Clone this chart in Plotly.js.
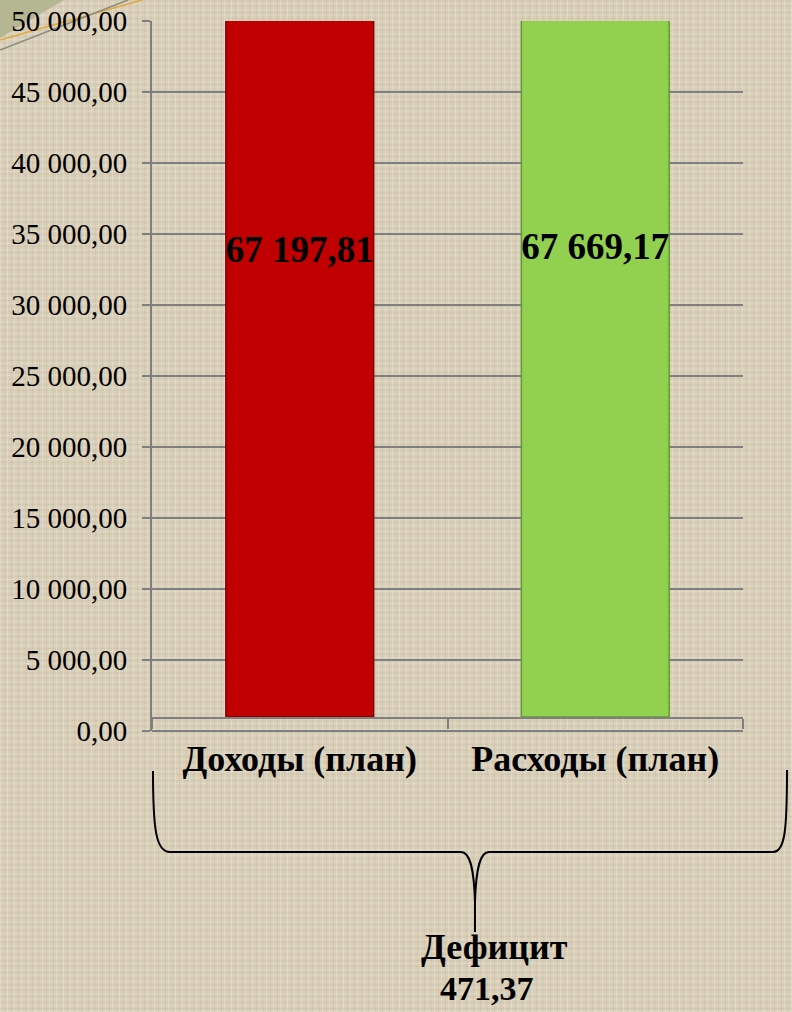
<!DOCTYPE html>
<html>
<head>
<meta charset="utf-8">
<script src="https://cdn.plot.ly/plotly-3.0.1.min.js"></script>
<style>
  html, body { margin: 0; padding: 0; }
  body {
    width: 792px; height: 1012px; overflow: hidden;
    background-color: #d9cfb8;
    background-image:
      repeating-linear-gradient(90deg, rgba(255,255,255,0.18) 0px, rgba(255,255,255,0.18) 1px, rgba(0,0,0,0) 1px, rgba(0,0,0,0) 4px, rgba(120,100,70,0.07) 4px, rgba(120,100,70,0.07) 5px, rgba(0,0,0,0) 5px, rgba(0,0,0,0) 7px),
      repeating-linear-gradient(0deg, rgba(255,255,255,0.15) 0px, rgba(255,255,255,0.15) 1px, rgba(0,0,0,0) 1px, rgba(0,0,0,0) 3px, rgba(120,100,70,0.08) 3px, rgba(120,100,70,0.08) 4px, rgba(0,0,0,0) 4px, rgba(0,0,0,0) 6px);
  }
  #chart { width: 792px; height: 1012px; }
</style>
</head>
<body>
<div id="chart"></div>
<script>
// ---- data ----
const categories = ['Доходы (план)', 'Расходы (план)'];
const values = [67197.81, 67669.17];
const barColors = ['#c00000', '#92d050'];
const barEdgeColors = ['#7a0000', '#5f9a2e'];
const deficitLabel = 'Дефицит';
const deficitValue = [471.37];

// ---- layout helpers (plot area in pixels) ----
const W = 792, H = 1012;
const PL = 152, PR = 743, PT = 21, PB = 731, FLOOR = 717;
const X = px => (px - PL) / (PR - PL);
const Y = py => (PB - py) / (PB - PT);
const P = (px, py) => X(px).toFixed(5) + ',' + Y(py).toFixed(5);

const serif = 'Liberation Serif';

const bars = {
  type: 'bar',
  x: categories,
  y: values,
  xaxis: 'x',
  yaxis: 'y2',
  marker: { color: barColors, line: { color: barEdgeColors, width: 1.5 } },
  texttemplate: '%{y:,.2f}',
  textposition: 'inside',
  insidetextanchor: 'middle',
  textangle: 0,
  constraintext: 'none',
  textfont: { family: serif, size: 37, color: '#000000', weight: 'bold' },
  cliponaxis: true,
  hoverinfo: 'skip',
  showlegend: false
};

// empty trace so the value axis subplot exists
const ghost = {
  type: 'scatter', mode: 'markers', x: categories, y: [null, null],
  xaxis: 'x', yaxis: 'y', hoverinfo: 'skip', showlegend: false
};

const braceLeft =
  'M' + P(153, 771) +
  ' C' + P(153, 830) + ' ' + P(156, 852) + ' ' + P(170, 852) +
  ' L' + P(461, 852) +
  ' C' + P(470, 852) + ' ' + P(474, 868) + ' ' + P(475, 902);
const braceRight =
  'M' + P(475, 902) +
  ' C' + P(476, 868) + ' ' + P(480, 852) + ' ' + P(489, 852) +
  ' L' + P(773, 852) +
  ' C' + P(785, 852) + ' ' + P(787, 830) + ' ' + P(787, 770);
const braceStem = 'M' + P(475, 900) + ' L' + P(475, 932);

const decoFill = 'M' + P(0, 0) + ' L' + P(64, 0) + ' Q' + P(30, 20) + ' ' + P(0, 38) + ' Z';
const decoOrange = 'M' + P(0, 40) + ' L' + P(142, 0);
const decoGray = 'M' + P(0, 50) + ' L' + P(128, 0);

const layout = {
  width: W, height: H,
  margin: { l: PL, r: W - PR, t: PT, b: H - PB, pad: 0 },
  paper_bgcolor: 'rgba(0,0,0,0)',
  plot_bgcolor: 'rgba(0,0,0,0)',
  separators: ', ',
  bargap: 0.5,
  showlegend: false,
  font: { family: serif, color: '#000000', size: 29 },
  xaxis: {
    type: 'category',
    domain: [0, 1],
    anchor: 'y2',
    showline: true, linecolor: '#7f7f7f', linewidth: 2,
    ticks: 'outside', tickson: 'boundaries', ticklen: 10, tickwidth: 2, tickcolor: '#7f7f7f',
    showgrid: false,
    tickfont: { family: serif, size: 36, color: '#000000', weight: 'bold' },
    ticklabelstandoff: 9,
    fixedrange: true
  },
  yaxis: {
    domain: [0, 1],
    anchor: 'x',
    range: [0, 50000],
    dtick: 5000,
    tickformat: ',.2f',
    showline: true, linecolor: '#7f7f7f', linewidth: 2,
    ticks: 'outside', ticklen: 8, tickwidth: 2, tickcolor: '#7f7f7f',
    showgrid: true, gridcolor: '#7f7f7f', gridwidth: 1.5,
    zeroline: true, zerolinecolor: '#7f7f7f', zerolinewidth: 2,
    tickfont: { family: serif, size: 29, color: '#000000' },
    ticklabelstandoff: 9,
    fixedrange: true
  },
  yaxis2: {
    domain: [Y(FLOOR), 1],
    anchor: 'x',
    range: [0, 50000],
    visible: false,
    showgrid: false,
    zeroline: false,
    fixedrange: true
  },
  shapes: [
    { type: 'path', xref: 'paper', yref: 'paper', path: decoFill, fillcolor: '#b5b692', line: { width: 0 }, layer: 'below' },
    { type: 'path', xref: 'paper', yref: 'paper', path: decoOrange, line: { color: '#e0a93a', width: 1.5 }, layer: 'below' },
    { type: 'path', xref: 'paper', yref: 'paper', path: decoGray, line: { color: '#8a8a80', width: 1.5 }, layer: 'below' },
    { type: 'path', xref: 'paper', yref: 'paper', path: braceLeft, line: { color: '#000000', width: 2 } },
    { type: 'path', xref: 'paper', yref: 'paper', path: braceRight, line: { color: '#000000', width: 2 } },
    { type: 'path', xref: 'paper', yref: 'paper', path: braceStem, line: { color: '#000000', width: 2 } }
  ],
  annotations: [
    { xref: 'paper', yref: 'paper', x: X(494), y: Y(947), xanchor: 'center', yanchor: 'middle',
      text: deficitLabel, showarrow: false,
      font: { family: serif, size: 36, color: '#000000', weight: 'bold' } },
    { xref: 'paper', yref: 'paper', x: X(487), y: Y(988), xanchor: 'center', yanchor: 'middle',
      text: deficitValue[0].toFixed(2).replace('.', ','), showarrow: false, borderpad: 0,
      font: { family: serif, size: 34, color: '#000000', weight: 'bold' } }
  ]
};

Plotly.newPlot('chart', [ghost, bars], layout, { displayModeBar: false, staticPlot: true });
</script>
</body>
</html>
